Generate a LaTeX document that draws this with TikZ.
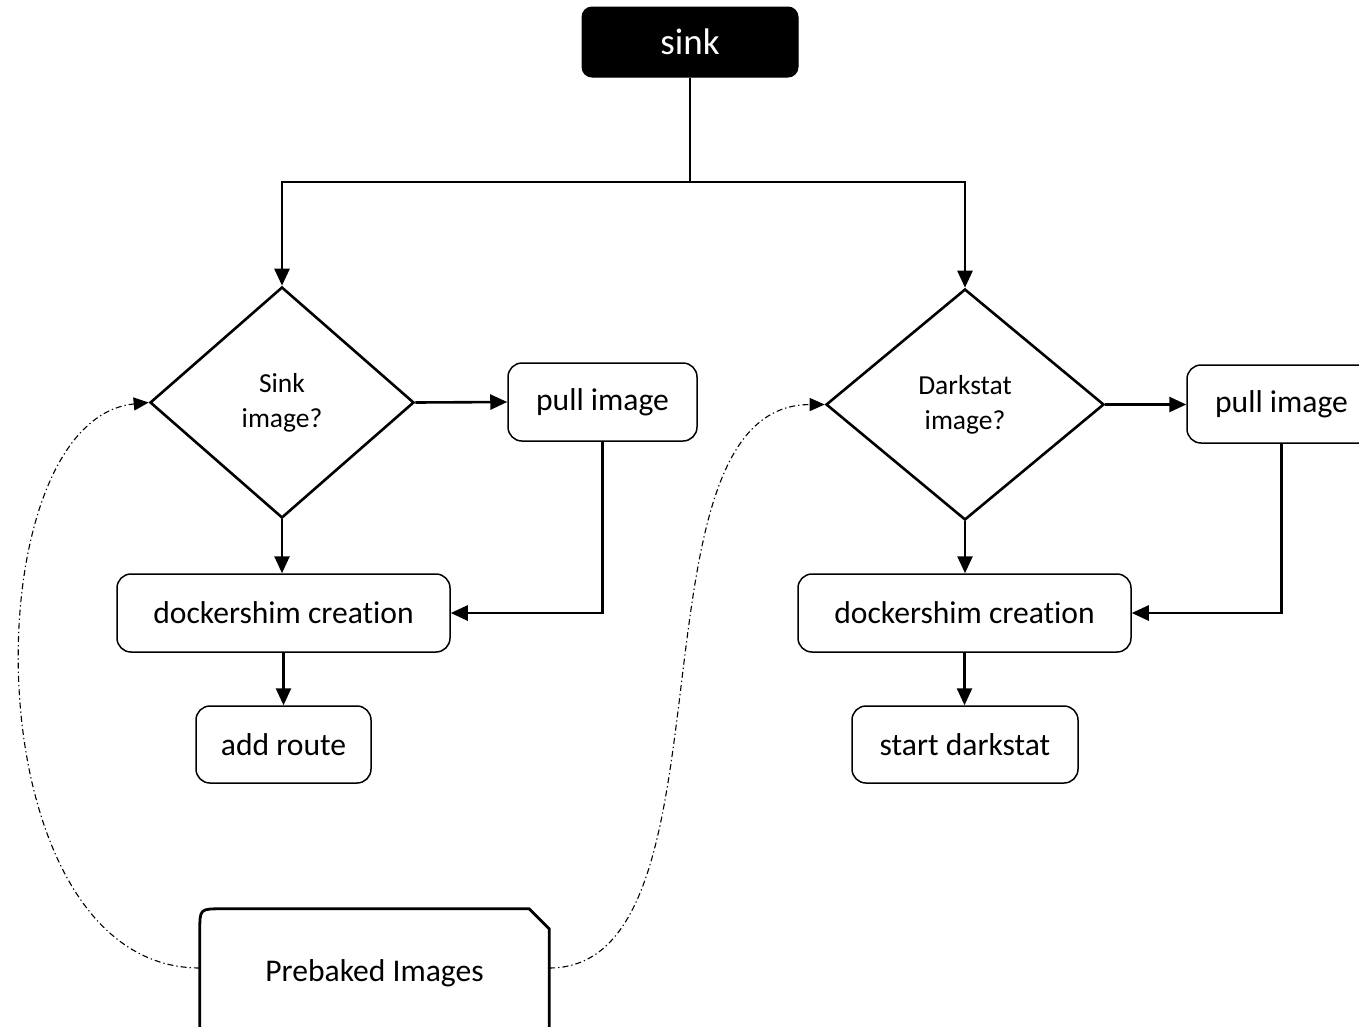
\documentclass[tikz,border=0pt]{standalone}
\usepackage{fontspec}
\setmainfont{Carlito}[Ligatures={NoCommon}]
\usetikzlibrary{shapes.geometric,arrows.meta,calc}
\begin{document}
\begin{tikzpicture}[x=1pt,y=-1pt,
  every node/.style={inner sep=0pt},
  txt/.style={font=\fontsize{31.6}{38}\selectfont},
  box/.style={txt, draw, line width=1.5pt, rounded corners=14pt},
  decision/.style={diamond, draw, line width=2.6pt, align=center,
    minimum height=231, font=\fontsize{27.5}{35}\selectfont},
  arr/.style={line width=2.6pt, -{Triangle[length=17pt,width=15pt]}},
  dd/.style={line width=1.1pt, dash pattern=on 6pt off 3pt on 1.3pt off 3pt,
    -{Triangle[length=15pt,width=13pt]}}
]
\useasboundingbox (0,0) rectangle (1359,1026);

% start node
\node[draw, fill=black, text=white, line width=1pt, rounded corners=10pt,
  minimum width=216, minimum height=70, font=\fontsize{37}{44}\selectfont]
  (sink) at (690,42) {sink};
\coordinate (split) at (690,182);

% left branch
\node[decision, minimum width=264] (ldia) at (282,402.5) {Sink\\image?};
\node[box, minimum width=189, minimum height=78] (lpull) at (602.5,402) {pull image};
\node[box, minimum width=333, minimum height=78] (ldock) at (283.5,613) {dockershim creation};
\node[box, minimum width=175, minimum height=77] (lroute) at (283.5,744.5) {add route};

% right branch
\node[decision, minimum width=278] (rdia) at (965,404.5) {Darkstat\\image?};
\node[box, minimum width=189, minimum height=78] (rpull) at (1281.5,404) {pull image};
\node[box, minimum width=333, minimum height=78] (rdock) at (964.5,613) {dockershim creation};
\node[box, minimum width=226, minimum height=77] (rstart) at (965,744.5) {start darkstat};

% image store
\node[txt, minimum width=349, minimum height=128] (pre) at (374.5,973) {Prebaked Images};
\draw[line width=2.8pt]
  (pre.south west) -- ($(pre.north west)+(0,22)$)
  .. controls (pre.north west) .. ($(pre.north west)+(22,0)$)
  -- ($(pre.north east)+(-20,0)$) -- ($(pre.north east)+(0,20)$)
  -- (pre.south east);

% main flow
\draw[line width=2.6pt] (sink.south) -- (split);
\draw[arr] (split) -| (ldia.north);
\draw[arr] (split) -| (rdia.north);

\draw[arr] (ldia.east) -- (lpull.west);
\draw[arr] (ldia.south) -- (ldia.south |- ldock.north);
\draw[arr] (lpull.south) |- (ldock.east);
\draw[arr] (ldock.south) -- (ldock.south |- lroute.north);

\draw[arr] (rdia.east) -- (rdia.east -| rpull.west);
\draw[arr] (rdia.south) -- (rdia.south |- rdock.north);
\draw[arr] (rpull.south) |- (rdock.east);
\draw[arr] (rdock.south) -- (rdock.south |- rstart.north);

% prebaked images feed both checks
\draw[dd] ($(pre.west)+(0,-5)$) .. controls (-30,968) and (-30,420) .. (ldia.west);
\draw[dd] ($(pre.east)+(0,-5)$) .. controls (743,968) and (620,405) .. (rdia.west);
\end{tikzpicture}
\end{document}
